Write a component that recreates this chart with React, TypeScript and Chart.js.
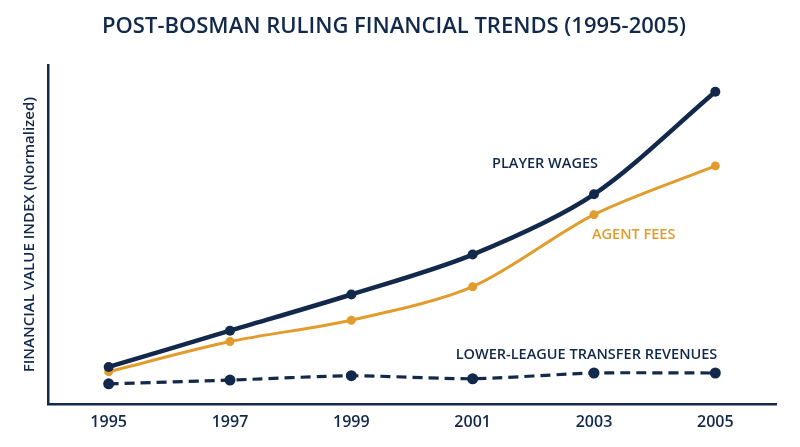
import React, { useEffect, useRef } from "react";
import { Chart, registerables, Plugin } from "chart.js";

Chart.register(...registerables);

const years = ["1995", "1997", "1999", "2001", "2003", "2005"];
const playerWages = [10.9, 21.6, 32.3, 44.1, 61.9, 92.2];
const agentFees = [9.5, 18.4, 24.7, 34.6, 55.9, 70.3];
const lowerLeague = [5.9, 7.0, 8.3, 7.4, 9.1, 9.1];

const NAVY = "#13294b";
const GOLD = "#e29c2d";
const FONT = "'Open Sans', 'DejaVu Sans', sans-serif";

// series name labels, drawn next to a chosen point of each line
const seriesLabels = [
  { text: "PLAYER WAGES", dataset: 0, index: 4, dx: 4, dy: -30, align: "right", color: NAVY },
  { text: "AGENT FEES", dataset: 1, index: 4, dx: -2, dy: 20, align: "left", color: GOLD },
  { text: "LOWER-LEAGUE TRANSFER REVENUES", dataset: 2, index: 5, dx: 2, dy: -18, align: "right", color: NAVY },
];

const labelPlugin: Plugin<"line"> = {
  id: "seriesLabels",
  afterDatasetsDraw(chart) {
    const ctx = chart.ctx;
    ctx.save();
    ctx.font = `600 14.5px ${FONT}`;
    ctx.textBaseline = "middle";
    seriesLabels.forEach((l) => {
      const pt = chart.getDatasetMeta(l.dataset).data[l.index];
      ctx.fillStyle = l.color;
      ctx.textAlign = l.align as CanvasTextAlign;
      ctx.fillText(l.text, pt.x + l.dx, pt.y + l.dy);
    });
    ctx.restore();
  },
};

const App: React.FC = () => {
  const chartRef = useRef<HTMLCanvasElement>(null);
  const chartInstance = useRef<Chart | null>(null);

  useEffect(() => {
    if (!chartRef.current) return;
    if (chartInstance.current) chartInstance.current.destroy();

    const ctx = chartRef.current.getContext("2d");
    if (!ctx) return;

    chartInstance.current = new Chart(ctx, {
      type: "line",
      data: {
        labels: years,
        datasets: [
          {
            label: "Player Wages",
            data: playerWages,
            borderColor: NAVY,
            backgroundColor: NAVY,
            borderWidth: 4.5,
            pointRadius: 5,
            pointBorderWidth: 0,
            tension: 0.3,
          },
          {
            label: "Agent Fees",
            data: agentFees,
            borderColor: GOLD,
            backgroundColor: GOLD,
            borderWidth: 3,
            pointRadius: 4.5,
            pointBorderWidth: 0,
            tension: 0.3,
          },
          {
            label: "Lower-League Transfer Revenues",
            data: lowerLeague,
            borderColor: NAVY,
            backgroundColor: NAVY,
            borderWidth: 3.2,
            borderDash: [10, 6],
            pointRadius: 5.5,
            pointBorderWidth: 0,
            tension: 0.2,
          },
        ],
      },
      options: {
        animation: false,
        responsive: true,
        maintainAspectRatio: false,
        layout: { padding: { top: 0, left: 12, right: 24, bottom: 6 } },
        plugins: {
          legend: { display: false },
          tooltip: { enabled: false },
          title: {
            display: true,
            text: "POST-BOSMAN RULING FINANCIAL TRENDS (1995-2005)",
            color: NAVY,
            font: { family: FONT, size: 22, weight: 600 },
            padding: { top: 14, bottom: 25 },
          },
        },
        scales: {
          x: {
            offset: true,
            grid: { display: false, drawTicks: false },
            border: { color: NAVY, width: 2.5 },
            ticks: {
              color: NAVY,
              padding: 9,
              font: { family: FONT, size: 16, weight: 600 },
            },
          },
          y: {
            min: 0,
            max: 100,
            grid: { display: false, drawTicks: false },
            border: { color: NAVY, width: 2.5 },
            ticks: { display: false },
            title: {
              display: true,
              text: "FINANCIAL VALUE INDEX (Normalized)",
              color: NAVY,
              font: { family: FONT, size: 15, weight: 600 },
              padding: { top: 9, bottom: 9 },
            },
          },
        },
      },
      plugins: [labelPlugin],
    });

    return () => {
      if (chartInstance.current) {
        chartInstance.current.destroy();
        chartInstance.current = null;
      }
    };
  }, []);

  return (
    <div
      style={{
        position: "fixed",
        left: 0,
        top: 0,
        width: 800,
        height: 447,
        background: "#ffffff",
      }}
    >
      <canvas ref={chartRef} />
    </div>
  );
};

export default App;
